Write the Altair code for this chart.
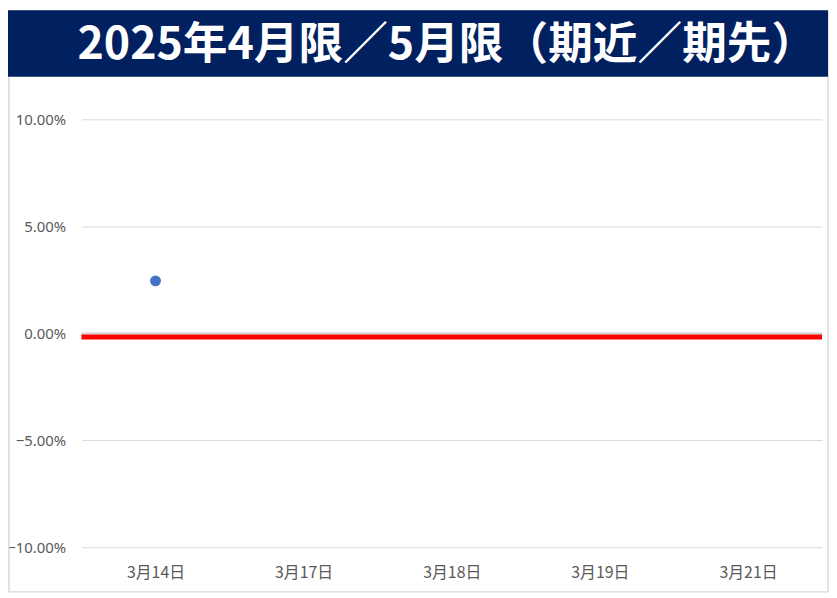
import altair as alt
import pandas as pd

TITLE = "2025年4月限／5月限（期近／期先）"
dates = ["3月14日", "3月17日", "3月18日", "3月19日", "3月21日"]
spread = [0.0245, None, None, None, None]
level = [-0.0017]
zero = [0.0]
y_ticks = [-0.10, -0.05, 0.0, 0.05, 0.10]

W, H = 746, 431

pts = pd.DataFrame({"date": dates, "spread": spread}).dropna()

x_scale = alt.Scale(type="point", domain=dates, padding=0.5)
x_axis = alt.Axis(title=None, labelAngle=0, domain=False, ticks=False, grid=False,
                  labelFont="Noto Sans CJK JP", labelFontSize=16, labelColor="#595959",
                  labelPadding=18)
y_scale = alt.Scale(domain=[-0.10, 0.10], nice=False, zero=False)
y_axis = alt.Axis(title=None, values=y_ticks, format=".2%", domain=False, ticks=False,
                  grid=True, gridColor="#d9d9d9", gridWidth=1,
                  labelFont="Noto Sans", labelFontSize=15, labelColor="#595959",
                  labelPadding=16)

one = alt.Data(values=[{}])

frame = alt.Chart(one).mark_rect(fill="white", fillOpacity=0, stroke="#d9d9d9", strokeWidth=1.5).encode(
    x=alt.value(-73), x2=alt.value(752), y=alt.value(-109), y2=alt.value(476))

bar = alt.Chart(one).mark_rect(fill="#002060").encode(
    x=alt.value(-74), x2=alt.value(752), y=alt.value(-110), y2=alt.value(-43))

title = alt.Chart(one).mark_text(text=TITLE, font="Noto Sans CJK JP", fontSize=45,
                                 fontWeight="bold", color="white", align="center",
                                 baseline="alphabetic").encode(
    x=alt.value(368), y=alt.value(-61))

zero_line = alt.Chart(pd.DataFrame({"zero": zero})).mark_rule(color="#d9d9d9", strokeWidth=2).encode(
    y=alt.Y("zero:Q", scale=y_scale, axis=y_axis))

red = alt.Chart(pd.DataFrame({"level": level})).mark_rule(color="#ff0000", strokeWidth=5).encode(
    y=alt.Y("level:Q", scale=y_scale, axis=y_axis))

points = alt.Chart(pts).mark_circle(color="#4472C4", size=120, opacity=1).encode(
    x=alt.X("date:N", sort=dates, scale=x_scale, axis=x_axis),
    y=alt.Y("spread:Q", scale=y_scale, axis=y_axis))

chart = alt.layer(frame, bar, title, zero_line, red, points).properties(
    width=W, height=H,
    padding={"left": 74, "top": 110, "right": 7, "bottom": 46},
    autosize=alt.AutoSizeParams(type="none"),
    background="white",
).configure_view(stroke=None)

chart.save("out.html", embed_options={"renderer": "svg", "actions": False})
